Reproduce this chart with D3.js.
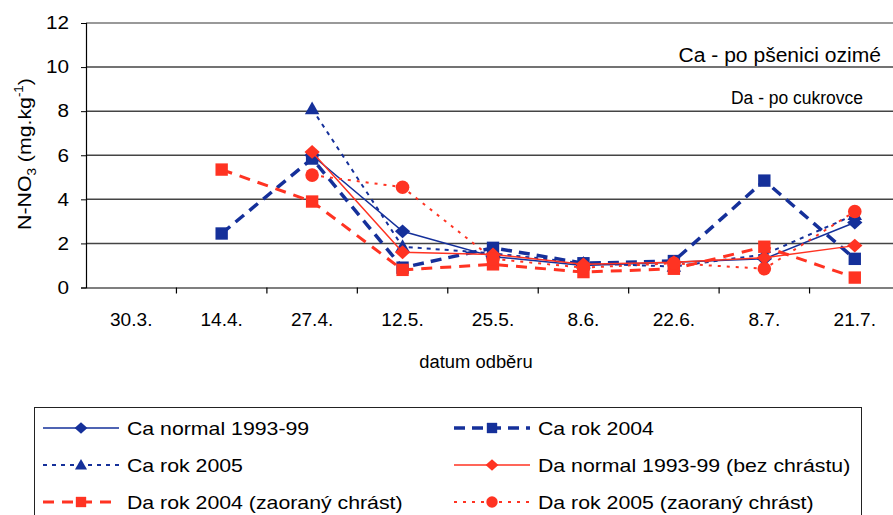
<!DOCTYPE html>
<html><head><meta charset="utf-8">
<script src="https://cdn.jsdelivr.net/npm/d3@7"></script>
<style>body{margin:0;background:#fff}svg{display:block;font-family:"Liberation Sans",Arial,sans-serif}</style>
</head><body><svg id="c" width="893" height="515"></svg>
<script>
const categories = ["30.3.","14.4.","27.4.","12.5.","25.5.","8.6.","22.6.","8.7.","21.7."];
const caNormal = [null,null,6.0,2.55,1.4,1.0,1.15,1.3,2.95];
const ca2004   = [null,2.45,5.85,0.9,1.8,1.1,1.2,4.85,1.3];
const ca2005   = [null,null,8.1,1.85,1.55,1.1,0.95,1.5,3.3];
const daNormal = [null,null,6.15,1.6,1.5,1.05,1.15,1.35,1.9];
const da2004   = [null,5.35,3.9,0.8,1.05,0.7,0.85,1.85,0.45];
const da2005   = [null,null,5.1,4.55,1.3,0.9,1.1,0.85,3.45];
const yTicks = [0,2,4,6,8,10,12];
const seriesNames = ["Ca normal 1993-99","Ca rok 2004","Ca rok 2005","Da normal 1993-99 (bez chrástu)","Da rok 2004 (zaoraný chrást)","Da rok 2005 (zaoraný chrást)"];

const BLUE = "#15309a", RED = "#ff3322";
const series = [
  {name:seriesNames[0], vals:caNormal, color:BLUE, width:1.5, dash:null, marker:"diamond"},
  {name:seriesNames[1], vals:ca2004, color:BLUE, width:3.5, dash:"11,7", marker:"square"},
  {name:seriesNames[2], vals:ca2005, color:BLUE, width:2, dash:"4,5", marker:"triangle"},
  {name:seriesNames[3], vals:daNormal, color:RED, width:1.5, dash:null, marker:"diamond"},
  {name:seriesNames[4], vals:da2004, color:RED, width:3, dash:"11,8", marker:"square"},
  {name:seriesNames[5], vals:da2005, color:RED, width:2, dash:"3,6", marker:"circle"}
];

function stretch(sel, f) {
  sel.each(function(){
    const w = this.getComputedTextLength();
    d3.select(this).attr("textLength", w*f).attr("lengthAdjust", "spacingAndGlyphs");
  });
}

const svg = d3.select("#c");
const pLeft = 86, pRight = 900, pTop = 23, pBottom = 287.5;
const x = d3.scaleBand().domain(categories).range([pLeft, pRight]).padding(0);
const y = d3.scaleLinear().domain([0,12]).range([pBottom, pTop]);

// gridlines
svg.append("g").selectAll("line").data(yTicks.filter(d=>d>0)).join("line")
  .attr("x1", pLeft).attr("x2", 893).attr("y1", d=>y(d)).attr("y2", d=>y(d))
  .attr("stroke", d => d === 12 ? "#777" : "#444").attr("stroke-width", 1.5);

// y axis
const ya = svg.append("g").attr("transform", `translate(${pLeft},0)`)
  .call(d3.axisLeft(y).tickValues(yTicks).tickSize(5).tickPadding(12).tickFormat(d3.format("d")));
ya.select(".domain").attr("stroke", "#000").attr("stroke-width", 1.2);
ya.selectAll(".tick line").attr("stroke", "#000");
ya.selectAll("text").attr("font-size", 18).attr("font-family", "Liberation Sans, Arial").attr("fill", "#000")
  .call(stretch, 1.15);

// x axis
const xa = svg.append("g").attr("transform", `translate(0,${pBottom})`)
  .call(d3.axisBottom(x).tickSize(0).tickPadding(26));
xa.select(".domain").attr("stroke", "#000").attr("stroke-width", 1.2);
xa.selectAll("text").attr("font-size", 18).attr("font-family", "Liberation Sans, Arial").attr("fill", "#000")
  .call(stretch, 1.06);
svg.append("g").selectAll("line").data(categories.slice(1)).join("line")
  .attr("x1", d=>x(d)).attr("x2", d=>x(d)).attr("y1", pBottom).attr("y2", pBottom+6)
  .attr("stroke", "#000").attr("stroke-width", 1.2);

// axis titles
svg.append("text").attr("x", 476).attr("y", 368).attr("text-anchor", "middle")
  .attr("font-size", 18).text("datum odběru").call(stretch, 1.02);
const yt = svg.append("text").attr("transform", "translate(31,154) rotate(-90)")
  .attr("text-anchor", "middle").attr("font-size", 19);
yt.append("tspan").text("N-NO");
yt.append("tspan").attr("font-size", 12).attr("dy", 5).text("3");
yt.append("tspan").attr("dy", -5).text(" (mg.kg");
yt.append("tspan").attr("font-size", 12).attr("dy", -8).text("-1");
yt.append("tspan").attr("dy", 8).text(")");
yt.call(stretch, 1.12);

// annotations
svg.append("text").attr("x", 881).attr("y", 62).attr("text-anchor", "end").attr("font-size", 19.5)
  .text("Ca - po pšenici ozimé").call(stretch, 1.08);
svg.append("text").attr("x", 863).attr("y", 104).attr("text-anchor", "end").attr("font-size", 18)
  .text("Da - po cukrovce").call(stretch, 0.97);

function markerPath(type, size) {
  const map = {diamond:d3.symbolDiamond2, square:d3.symbolSquare2, triangle:d3.symbolTriangle2, circle:d3.symbolCircle};
  return d3.symbol().type(map[type]).size(size)();
}
const msize = {diamond:135, square:195, triangle:150, circle:145};
function drawMarker(g, type, color, cx, cy, scale) {
  let p = g.append("path").attr("d", markerPath(type, msize[type]*(scale||1)))
    .attr("fill", color).attr("transform", `translate(${cx},${cy})`);
  if (type === "diamond") p.attr("transform", `translate(${cx},${cy}) scale(1.05,0.95)`);
  if (type === "triangle") p.attr("transform", `translate(${cx},${cy+1})`);
}

const cx = d => x(d) + x.bandwidth()/2;
series.forEach(s => {
  const pts = categories.map((c,i)=>({c, v:s.vals[i]})).filter(p=>p.v!=null);
  const line = d3.line().x(p=>cx(p.c)).y(p=>y(p.v));
  const g = svg.append("g");
  g.append("path").attr("d", line(pts)).attr("fill", "none").attr("stroke", s.color)
    .attr("stroke-width", s.width).attr("stroke-dasharray", s.dash);
  pts.forEach(p => drawMarker(g, s.marker, s.color, cx(p.c), y(p.v)));
});

// legend
svg.append("rect").attr("x", 34.5).attr("y", 407.5).attr("width", 827).attr("height", 120)
  .attr("fill", "none").attr("stroke", "#222").attr("stroke-width", 1);
const legPos = [[43,428],[454,428],[43,465],[454,465],[43,502],[454,502]];
series.forEach((s,i) => {
  const [lx, ly] = legPos[i];
  const g = svg.append("g");
  g.append("line").attr("x1", lx).attr("x2", lx+76).attr("y1", ly).attr("y2", ly)
    .attr("stroke", s.color).attr("stroke-width", s.width).attr("stroke-dasharray", s.dash);
  drawMarker(g, s.marker, s.color, lx+38, ly, 0.7);
  g.append("text").attr("x", lx+84).attr("y", ly+6.5).attr("font-size", 19).text(s.name).call(stretch, 1.12);
});
</script></body></html>
